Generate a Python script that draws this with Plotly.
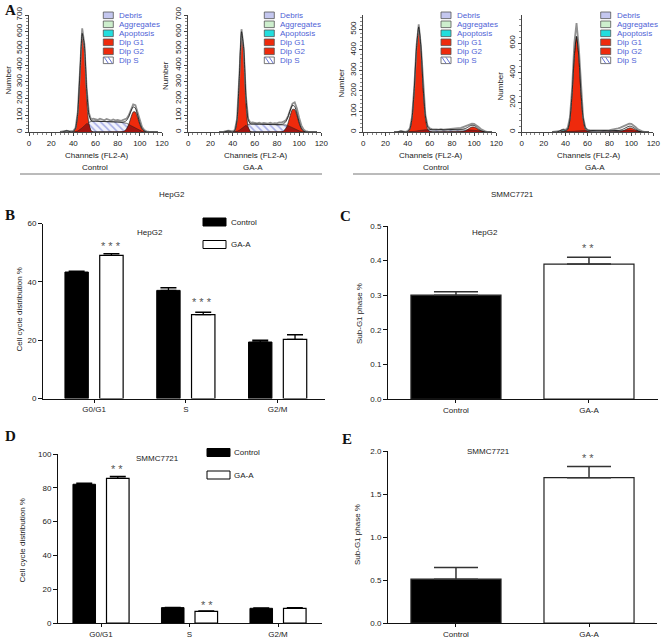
import numpy as np
import plotly.graph_objects as go

W, H = 669, 643


def X(px):
    return px / W


def Y(py):
    return 1 - py / H


# ---------------- Panel A: DNA histograms (channel axis) ----------------
CH = [28, 30, 32, 34, 36, 38, 40, 42, 44, 46,
      48, 50, 52, 54, 56, 58, 60, 62, 64, 66,
      68, 70, 72, 74, 76, 78, 80, 82, 84, 86,
      88, 90, 92, 94, 96, 98, 100, 102, 104, 106,
      108, 110, 112, 114, 116]

# HepG2 Control
H1_APOP = [0, 0, 4, 8, 4, 0, 0, 0, 0, 0, 0, 0, 0, 0, 0, 0, 0, 0, 0, 0, 0, 0, 0, 0, 0, 0, 0, 0, 0, 0,
           0, 0, 0, 0, 0, 0, 0, 0, 0, 0, 0, 0, 0, 0, 0]
H1_S = [0, 0, 0, 0, 0, 0, 0, 2, 6, 14, 25, 38, 50, 58, 63, 65, 65, 64, 64, 63,
        63, 62, 62, 61, 61, 60, 60, 59, 58, 56, 52, 46, 38, 30, 22, 14, 8, 4, 1, 0, 0, 0, 0, 0, 0]
H1_G1 = [0, 0, 0, 0, 0, 0, 3, 20, 110, 345, 565, 480, 210, 48, 6, 0, 0, 0, 0, 0,
         0, 0, 0, 0, 0, 0, 0, 0, 0, 0, 0, 0, 0, 0, 0, 0, 0, 0, 0, 0, 0, 0, 0, 0, 0]
H1_G2 = [0, 0, 0, 0, 0, 0, 0, 0, 0, 0, 0, 0, 0, 0, 0, 0, 0, 0, 0, 0,
         0, 0, 0, 0, 0, 0, 0, 0, 1, 5, 17, 45, 87, 120, 120, 87, 45, 17, 5, 1, 0, 0, 0, 0, 0]
H1_TOTAL = [0, 2, 4, 8, 4, 3, 6, 25, 120, 365, 620, 525, 265, 115, 75, 80, 78, 72, 80, 74,
            70, 78, 72, 68, 75, 70, 72, 68, 70, 75, 80, 100, 135, 165, 160, 120, 70, 30, 12, 4, 2, 0, 0, 0, 0]

# HepG2 GA-A
H2_APOP = [0, 0, 0, 3, 6, 3, 0, 0, 0, 0, 0, 0, 0, 0, 0, 0, 0, 0, 0, 0, 0, 0, 0, 0, 0, 0, 0, 0, 0, 0,
           0, 0, 0, 0, 0, 0, 0, 0, 0, 0, 0, 0, 0, 0, 0]
H2_S = [0, 0, 0, 0, 0, 0, 0, 1, 4, 10, 20, 30, 40, 45, 47, 48, 48, 47, 47, 46,
        46, 46, 45, 45, 45, 45, 44, 44, 44, 44, 42, 38, 32, 25, 18, 12, 7, 3, 1, 0, 0, 0, 0, 0, 0]
H2_G1 = [0, 0, 0, 0, 0, 0, 0, 8, 72, 310, 580, 470, 170, 28, 2, 0, 0, 0, 0, 0,
         0, 0, 0, 0, 0, 0, 0, 0, 0, 0, 0, 0, 0, 0, 0, 0, 0, 0, 0, 0, 0, 0, 0, 0, 0]
H2_G2 = [0, 0, 0, 0, 0, 0, 0, 0, 0, 0, 0, 0, 0, 0, 0, 0, 0, 0, 0, 0,
         0, 0, 0, 0, 0, 0, 0, 0, 1, 5, 20, 53, 99, 135, 135, 99, 53, 20, 5, 1, 0, 0, 0, 0, 0]
H2_TOTAL = [0, 0, 2, 5, 8, 6, 4, 12, 80, 330, 615, 500, 215, 80, 55, 58, 55, 52, 56, 50,
            54, 52, 50, 55, 50, 53, 52, 58, 56, 62, 70, 95, 130, 170, 178, 140, 85, 40, 15, 5, 2, 0, 0, 0, 0]

# SMMC7721 Control
H3_APOP = [0, 0, 2, 4, 2, 0, 0, 0, 0, 0, 0, 0, 0, 0, 0, 0, 0, 0, 0, 0, 0, 0, 0, 0, 0, 0, 0, 0, 0, 0,
           0, 0, 0, 0, 0, 0, 0, 0, 0, 0, 0, 0, 0, 0, 0]
H3_S = [0, 0, 0, 0, 0, 0, 0, 0, 1, 3, 5, 7, 9, 10, 11, 11, 11, 11, 11, 12,
        12, 12, 11, 11, 12, 12, 12, 12, 12, 12, 12, 12, 12, 11, 10, 9, 8, 6, 4, 2, 1, 0, 0, 0, 0]
H3_G1 = [0, 0, 0, 0, 0, 0, 2, 14, 68, 208, 405, 505, 405, 208, 68, 14, 2, 0, 0, 0,
         0, 0, 0, 0, 0, 0, 0, 0, 0, 0, 0, 0, 0, 0, 0, 0, 0, 0, 0, 0, 0, 0, 0, 0, 0]
H3_G2 = [0, 0, 0, 0, 0, 0, 0, 0, 0, 0, 0, 0, 0, 0, 0, 0, 0, 0, 0, 0,
         0, 0, 0, 0, 0, 0, 0, 0, 0, 0, 1, 2, 5, 11, 19, 24, 24, 19, 11, 5, 2, 1, 0, 0, 0]
H3_TOTAL = [0, 0, 2, 4, 2, 1, 5, 18, 75, 220, 420, 525, 420, 225, 85, 30, 18, 14, 12, 13,
            12, 14, 11, 12, 14, 12, 13, 14, 16, 18, 20, 24, 28, 33, 38, 41, 40, 34, 25, 15, 8, 3, 1, 0, 0]

# SMMC7721 GA-A
H4_APOP = [0, 0, 0, 5, 12, 15, 8, 2, 0, 0, 0, 0, 0, 0, 0, 0, 0, 0, 0, 0, 0, 0, 0, 0, 0, 0, 0, 0, 0, 0,
           0, 0, 0, 0, 0, 0, 0, 0, 0, 0, 0, 0, 0, 0, 0]
H4_S = [0, 0, 0, 0, 0, 0, 0, 0, 1, 3, 5, 7, 8, 9, 10, 10, 10, 10, 10, 10,
        10, 10, 10, 10, 10, 10, 10, 10, 10, 10, 10, 11, 12, 12, 12, 12, 11, 9, 6, 3, 1, 0, 0, 0, 0]
H4_G1 = [0, 0, 0, 0, 0, 0, 3, 18, 86, 263, 512, 640, 512, 263, 86, 18, 3, 0, 0, 0,
         0, 0, 0, 0, 0, 0, 0, 0, 0, 0, 0, 0, 0, 0, 0, 0, 0, 0, 0, 0, 0, 0, 0, 0, 0]
H4_G2 = [0, 0, 0, 0, 0, 0, 0, 0, 0, 0, 0, 0, 0, 0, 0, 0, 0, 0, 0, 0,
         0, 0, 0, 0, 0, 0, 0, 0, 0, 0, 0, 2, 6, 13, 21, 27, 27, 21, 13, 6, 2, 1, 0, 0, 0]
H4_TOTAL = [0, 0, 2, 5, 12, 18, 15, 30, 100, 300, 600, 735, 580, 300, 100, 30, 15, 12, 10, 12,
            10, 11, 10, 12, 10, 11, 13, 15, 17, 20, 24, 30, 38, 46, 53, 57, 55, 45, 32, 18, 9, 4, 1, 0, 0]

LEGEND_ITEMS = ["Debris", "Aggregates", "Apoptosis", "Dip G1", "Dip G2", "Dip S"]

# ---------------- Panels B-E: bar charts ----------------
PHASES = ["G0/G1", "S", "G2/M"]
GROUPS = ["Control", "GA-A"]

HEPG2_CTRL = [43.4, 37.1, 19.4]
HEPG2_CTRL_ERR = [0.3, 0.9, 0.6]
HEPG2_GAA = [49.1, 28.8, 20.3]
HEPG2_GAA_ERR = [0.6, 0.8, 1.6]

SMMC_CTRL = [82.1, 9.1, 8.7]
SMMC_CTRL_ERR = [0.6, 0.2, 0.2]
SMMC_GAA = [85.6, 6.9, 8.7]
SMMC_GAA_ERR = [1.1, 0.2, 0.4]

HEPG2_SUBG1 = [0.30, 0.39]
HEPG2_SUBG1_ERR = [0.01, 0.02]
SMMC_SUBG1 = [0.51, 1.69]
SMMC_SUBG1_ERR = [0.135, 0.13]

FONT = "Liberation Sans"
SERIF = "Liberation Serif"
BLUE_TXT = "#4f5fd6"
RED = "#ee2a0c"
DARK_RED = "#a3140f"

fig = go.Figure()

hists = [
    (H1_APOP, H1_S, H1_G1, H1_G2, H1_TOTAL),
    (H2_APOP, H2_S, H2_G1, H2_G2, H2_TOTAL),
    (H3_APOP, H3_S, H3_G1, H3_G2, H3_TOTAL),
    (H4_APOP, H4_S, H4_G1, H4_G2, H4_TOTAL),
]
hist_x_px = [(29, 162), (188.3, 321.3), (363.3, 496.3), (521.7, 653.3)]
hist_ymax = [700, 700, 570, 790]
hist_dtick = [100, 100, 100, 200]
hist_minor = [20, 20, 20, 40]
hist_leg_px = [103.3, 264.3, 441, 600.7]
hist_number_px = [(7.5, 80), (166, 76), (341.5, 83), (499.5, 86)]

for i, (apop, s, g1, g2, tot) in enumerate(hists):
    n = i + 1
    xa = "x" if n == 1 else f"x{n}"
    ya = "y" if n == 1 else f"y{n}"
    s_a = np.array(s, float)
    g_a = np.maximum(np.array(g1, float), np.array(g2, float))
    overlap = np.minimum(s_a, g_a)
    model = np.array(apop, float) + s_a + np.array(g1, float) + np.array(g2, float)
    common = dict(x=CH, xaxis=xa, yaxis=ya, showlegend=False, hoverinfo="skip")
    fig.add_trace(go.Scatter(y=apop, fill="tozeroy", fillcolor="#22dede",
                             line=dict(color="#333", width=0.6), **common))
    fig.add_trace(go.Scatter(y=s, fill="tozeroy", fillcolor="#eef0fb",
                             fillpattern=dict(shape="\\", fgcolor="#5563cf", bgcolor="#f2f3fc",
                                              size=5, solidity=0.3),
                             line=dict(color="#333", width=0.7), **common))
    fig.add_trace(go.Scatter(y=g1, fill="tozeroy", fillcolor=RED,
                             line=dict(color="#222", width=0.7, shape="spline", smoothing=0.7), **common))
    fig.add_trace(go.Scatter(y=g2, fill="tozeroy", fillcolor=RED,
                             line=dict(color="#222", width=0.7, shape="spline", smoothing=0.7), **common))
    fig.add_trace(go.Scatter(y=overlap, fill="tozeroy", fillcolor=DARK_RED,
                             line=dict(color="#222", width=0.5), **common))
    fig.add_trace(go.Scatter(y=tot, mode="lines", line=dict(color="#909090", width=1.8), **common))
    fig.add_trace(go.Scatter(y=model, mode="lines",
                             line=dict(color="#111", width=0.8, shape="spline", smoothing=0.6), **common))

    x0, x1 = hist_x_px[i]
    fig.update_layout(**{
        ("xaxis" if n == 1 else f"xaxis{n}"): dict(
            domain=[X(x0), X(x1)], anchor=ya, range=[0, 120], dtick=20, tick0=0,
            showline=True, linecolor="#444", linewidth=1, ticks="outside", ticklen=3,
            tickcolor="#444", tickfont=dict(size=8, color="#222"), showgrid=False,
            zeroline=False, automargin=False,
            minor=dict(ticks="outside", ticklen=2, dtick=4, tickcolor="#555", tickwidth=0.7)),
        ("yaxis" if n == 1 else f"yaxis{n}"): dict(
            domain=[Y(132), Y(15)], anchor=xa, range=[0, hist_ymax[i]], dtick=hist_dtick[i], tick0=0,
            showline=True, linecolor="#444", linewidth=1, ticks="outside", ticklen=3,
            tickcolor="#444", tickfont=dict(size=8, color="#222"), tickangle=-90,
            showgrid=False, zeroline=False, automargin=False,
            minor=dict(ticks="outside", ticklen=2, dtick=hist_minor[i], tickcolor="#555", tickwidth=0.7)),
    })

# ---------------- bar charts ----------------
def add_cycle(ctrl, ctrl_err, gaa, gaa_err, n, err_w):
    xa, ya = f"x{n}", f"y{n}"
    fig.add_trace(go.Bar(x=PHASES, y=ctrl, width=0.255, offset=-0.317,
                         marker=dict(color="black", line=dict(color="black", width=1)),
                         error_y=dict(type="data", array=ctrl_err, arrayminus=[0] * len(ctrl),
                                      symmetric=False, color="black", thickness=1.3, width=err_w),
                         xaxis=xa, yaxis=ya, showlegend=False, hoverinfo="skip"))
    fig.add_trace(go.Bar(x=PHASES, y=gaa, width=0.255, offset=0.062,
                         marker=dict(color="white", line=dict(color="black", width=1.2)),
                         error_y=dict(type="data", array=gaa_err, arrayminus=[0] * len(gaa),
                                      symmetric=False, color="black", thickness=1.3, width=err_w),
                         xaxis=xa, yaxis=ya, showlegend=False, hoverinfo="skip"))


def add_sub(vals, errs, n):
    xa, ya = f"x{n}", f"y{n}"
    fig.add_trace(go.Bar(x=GROUPS, y=vals, width=0.677,
                         marker=dict(color=["black", "white"], line=dict(color="#222", width=1.2)),
                         error_y=dict(type="data", array=errs, arrayminus=[0] * len(vals),
                                      symmetric=False, color="#333", thickness=1.5, width=22),
                         xaxis=xa, yaxis=ya, showlegend=False, hoverinfo="skip"))


add_cycle(HEPG2_CTRL, HEPG2_CTRL_ERR, HEPG2_GAA, HEPG2_GAA_ERR, 5, 8)
add_sub(HEPG2_SUBG1, HEPG2_SUBG1_ERR, 6)
add_cycle(SMMC_CTRL, SMMC_CTRL_ERR, SMMC_GAA, SMMC_GAA_ERR, 7, 8)
add_sub(SMMC_SUBG1, SMMC_SUBG1_ERR, 8)


def bar_axes(n, xpx, xr, ypx, yr, dt, fmt):
    return {
        f"xaxis{n}": dict(domain=[X(xpx[0]), X(xpx[1])], anchor=f"y{n}", type="category",
                          range=xr, showline=True, linecolor="#111", linewidth=1,
                          ticks="outside", ticklen=3, tickcolor="#111",
                          tickfont=dict(size=8, color="#222"), showgrid=False,
                          zeroline=False, automargin=False),
        f"yaxis{n}": dict(domain=[Y(ypx[1]), Y(ypx[0])], anchor=f"x{n}", range=yr, dtick=dt,
                          tick0=0, tickformat=fmt, showline=True, linecolor="#111", linewidth=1,
                          ticks="outside", ticklen=4, tickcolor="#111",
                          tickfont=dict(size=8, color="#222"), showgrid=False,
                          zeroline=False, automargin=False),
    }


lay = {}
lay.update(bar_axes(5, (43, 325), [-0.556, 2.516], (223.6, 398.6), [0, 60], 20, "d"))
lay.update(bar_axes(6, (388, 658), [-0.511, 1.519], (226, 399), [0, 0.5], 0.1, ".1f"))
lay.update(bar_axes(7, (58, 322), [-0.486, 2.497], (454, 623), [0, 100], 20, "d"))
lay.update(bar_axes(8, (388, 657), [-0.511, 1.511], (451, 623), [0, 2.0], 0.5, ".1f"))
fig.update_layout(**lay)

# ---------------- annotations & shapes ----------------
ann = []
shapes = []


def text(px, py, t, size=8, color="#222", angle=0, xanchor="center", family=FONT, bold=False):
    ann.append(dict(x=X(px), y=Y(py), xref="paper", yref="paper", text=f"<b>{t}</b>" if bold else t,
                    showarrow=False, font=dict(size=size, color=color, family=family),
                    textangle=angle, xanchor=xanchor, yanchor="middle"))


# panel letters
text(10, 10, "A", 15, "#111", family=SERIF, bold=True)
text(10, 215, "B", 15, "#111", family=SERIF, bold=True)
text(345, 216, "C", 15, "#111", family=SERIF, bold=True)
text(10, 436, "D", 15, "#111", family=SERIF, bold=True)
text(347, 439, "E", 15, "#111", family=SERIF, bold=True)

# histogram labels and legends
leg_fill = ["#c4c7ef", "#cdeecd", "#22dede", RED, RED, "#ffffff"]
row_y = [15.3, 24.3, 33.3, 42.3, 51.3, 60.3]
for i in range(4):
    x0, x1 = hist_x_px[i]
    text((x0 + x1) / 2 + 1, 155, "Channels (FL2-A)", 8)
    nx, ny = hist_number_px[i]
    text(nx, ny, "Number", 8, angle=-90)
    lx = hist_leg_px[i]
    for k, lab in enumerate(LEGEND_ITEMS):
        yc = row_y[k]
        shapes.append(dict(type="rect", xref="paper", yref="paper",
                           x0=X(lx), x1=X(lx + 10), y0=Y(yc + 3.3), y1=Y(yc - 3.3),
                           fillcolor=leg_fill[k], line=dict(color="#555", width=0.8)))
        if lab == "Dip S":
            for d in (0, 4):
                shapes.append(dict(type="line", xref="paper", yref="paper",
                                   x0=X(lx + 1 + d), x1=X(lx + 5 + d), y0=Y(yc - 3), y1=Y(yc + 3),
                                   line=dict(color="#5563cf", width=0.9)))
        text(lx + 14, yc, lab, 8, BLUE_TXT, xanchor="left")

text(95, 167, "Control", 8)
text(253, 167, "GA-A", 8)
text(172, 195, "HepG2", 8)
text(436, 167, "Control", 8)
text(595, 167, "GA-A", 8)
text(512, 195, "SMMC7721", 8)
shapes.append(dict(type="line", xref="paper", yref="paper", x0=X(20), x1=X(322), y0=Y(174), y1=Y(174),
                   line=dict(color="#777", width=1)))
shapes.append(dict(type="line", xref="paper", yref="paper", x0=X(353), x1=X(660), y0=Y(174), y1=Y(174),
                   line=dict(color="#777", width=1)))

# bar chart labels
text(18.5, 310, "Cell cycle distribution %", 8, angle=-90)
text(359, 314, "Sub-G1 phase %", 8, angle=-90)
text(21.5, 541, "Cell cycle distribution %", 8, angle=-90)
text(357, 535, "Sub-G1 phase %", 8, angle=-90)
text(150, 232, "HepG2", 8)
text(485, 232, "HepG2", 8)
text(157, 458, "SMMC7721", 8)
text(488, 452, "SMMC7721", 8)

# significance marks
text(111, 246, "* * *", 11, "#555")
text(202, 302, "* * *", 11, "#555")
text(588, 248, "* *", 11, "#555")
text(117, 469, "* *", 11, "#555")
text(207, 605, "* *", 11, "#555")
text(588, 458, "* *", 11, "#555")

# legends for B and D
for (bx, by1, by2, tx) in [(203, 222, 244.5, 229), (207, 452.5, 475, 232)]:
    shapes.append(dict(type="rect", xref="paper", yref="paper", x0=X(bx), x1=X(bx + 23),
                       y0=Y(by1 + 4), y1=Y(by1 - 4), fillcolor="black", line=dict(color="black", width=1)))
    shapes.append(dict(type="rect", xref="paper", yref="paper", x0=X(bx), x1=X(bx + 23),
                       y0=Y(by2 + 4), y1=Y(by2 - 4), fillcolor="white", line=dict(color="black", width=1)))
    text(tx, by1, "Control", 8, xanchor="left")
    text(tx, by2, "GA-A", 8, xanchor="left")

fig.update_layout(
    width=W, height=H, margin=dict(l=0, r=0, t=0, b=0),
    paper_bgcolor="white", plot_bgcolor="rgba(0,0,0,0)",
    barmode="overlay", showlegend=False,
    font=dict(family=FONT, size=8, color="#222"),
    annotations=ann, shapes=shapes,
)

fig.write_html("out.html",
               config={"displayModeBar": False, "staticPlot": True},
               post_script="document.body.style.margin='0px';document.body.style.overflow='hidden';")
